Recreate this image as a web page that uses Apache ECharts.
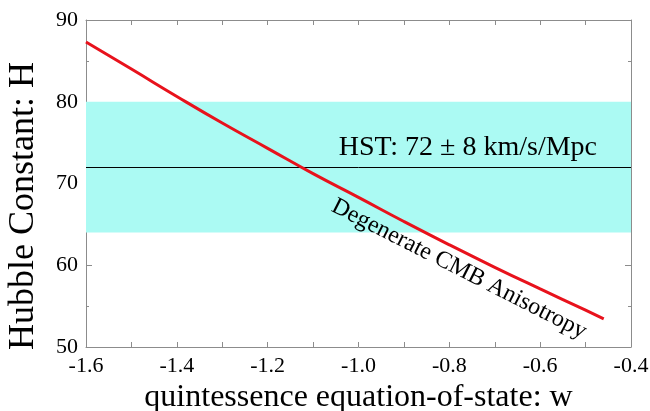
<!DOCTYPE html>
<html>
<head>
<meta charset="utf-8">
<script src="https://cdn.jsdelivr.net/npm/echarts@6/dist/echarts.min.js"></script>
<style>
  html, body { margin: 0; padding: 0; background: #fff; }
  #chart { width: 650px; height: 411px; }
</style>
</head>
<body>
<div id="chart"></div>
<script>
// w values and H
const wValues = [-1.6, -1.5, -1.4, -1.3, -1.2, -1.1, -1.0, -0.9, -0.8, -0.7, -0.6, -0.5, -0.46];
const hValues = [87.3, 84.0, 80.65, 77.4, 74.3, 71.2, 68.3, 65.35, 62.5, 59.75, 57.1, 54.5, 53.45];
// HST measurement 72 +/- 8
const hstCenter = 72;
const hstLow = 64;
const hstHigh = 80;

const serif = 'Liberation Serif';
const axisGray = '#8c8c8c';

const chart = echarts.init(document.getElementById('chart'));

const inTicks = (len) => ({ show: true, inside: true, length: len, lineStyle: { color: axisGray } });

chart.setOption({
    animation: false,
    grid: { left: 86, right: 19, top: 20, bottom: 64, outerBoundsMode: 'none', containLabel: false },
    xAxis: [
        {
            type: 'value',
            min: -1.6, max: -0.4, interval: 0.2,
            name: 'quintessence equation-of-state: w',
            nameLocation: 'middle',
            nameGap: 30,
            nameTextStyle: { fontFamily: serif, fontSize: 32, color: '#000' },
            axisLine: { show: true, lineStyle: { color: axisGray } },
            axisTick: inTicks(5),
            minorTick: { show: true, splitNumber: 2, length: 5, lineStyle: { color: axisGray } },
            splitLine: { show: false },
            axisLabel: {
                fontFamily: serif, fontSize: 22, color: '#000', margin: 8,
                formatter: v => v.toFixed(1)
            }
        },
        {
            type: 'value', position: 'top',
            min: -1.6, max: -0.4, interval: 0.2,
            axisLine: { show: true, lineStyle: { color: axisGray } },
            axisTick: inTicks(5),
            minorTick: { show: true, splitNumber: 2, length: 5, lineStyle: { color: axisGray } },
            splitLine: { show: false },
            axisLabel: { show: false }
        }
    ],
    yAxis: [
        {
            type: 'value',
            min: 50, max: 90, interval: 10,
            name: 'Hubble Constant: H',
            nameLocation: 'middle',
            nameGap: 44,
            nameTextStyle: { fontFamily: serif, fontSize: 36, color: '#000', padding: [0, 45, 0, 0] },
            axisLine: { show: true, lineStyle: { color: axisGray } },
            axisTick: inTicks(6),
            minorTick: { show: true, splitNumber: 2, length: 3, lineStyle: { color: axisGray } },
            splitLine: { show: false },
            axisLabel: { fontFamily: serif, fontSize: 22, color: '#000', margin: 8 }
        },
        {
            type: 'value', position: 'right',
            min: 50, max: 90, interval: 10,
            axisLine: { show: true, lineStyle: { color: axisGray } },
            axisTick: inTicks(6),
            minorTick: { show: true, splitNumber: 2, length: 3, lineStyle: { color: axisGray } },
            splitLine: { show: false },
            axisLabel: { show: false }
        }
    ],
    series: [
        {
            type: 'line',
            data: [],
            markArea: {
                silent: true,
                itemStyle: { color: '#abfaf3' },
                data: [[{ yAxis: hstLow }, { yAxis: hstHigh }]]
            },
            markLine: {
                silent: true,
                symbol: 'none',
                lineStyle: { color: '#000', width: 1, type: 'solid' },
                label: { show: false },
                data: [{ yAxis: hstCenter }]
            }
        },
        {
            type: 'line',
            data: wValues.map((w, i) => [w, hValues[i]]),
            smooth: true,
            showSymbol: false,
            lineStyle: { color: '#e8121c', width: 3 },
            z: 5
        }
    ],
    graphic: [
        {
            type: 'text',
            x: 597, y: 148,
            z: 100,
            style: {
                text: 'HST: 72 \u00b1 8 km/s/Mpc',
                font: '28px "Liberation Serif"',
                fill: '#000',
                align: 'right',
                verticalAlign: 'middle'
            }
        },
        {
            type: 'text',
            x: 459, y: 269,
            rotation: -0.47,
            z: 100,
            style: {
                text: 'Degenerate CMB Anisotropy',
                font: '24px "Liberation Serif"',
                fill: '#000',
                align: 'center',
                verticalAlign: 'middle'
            }
        }
    ]
});
</script>
</body>
</html>
